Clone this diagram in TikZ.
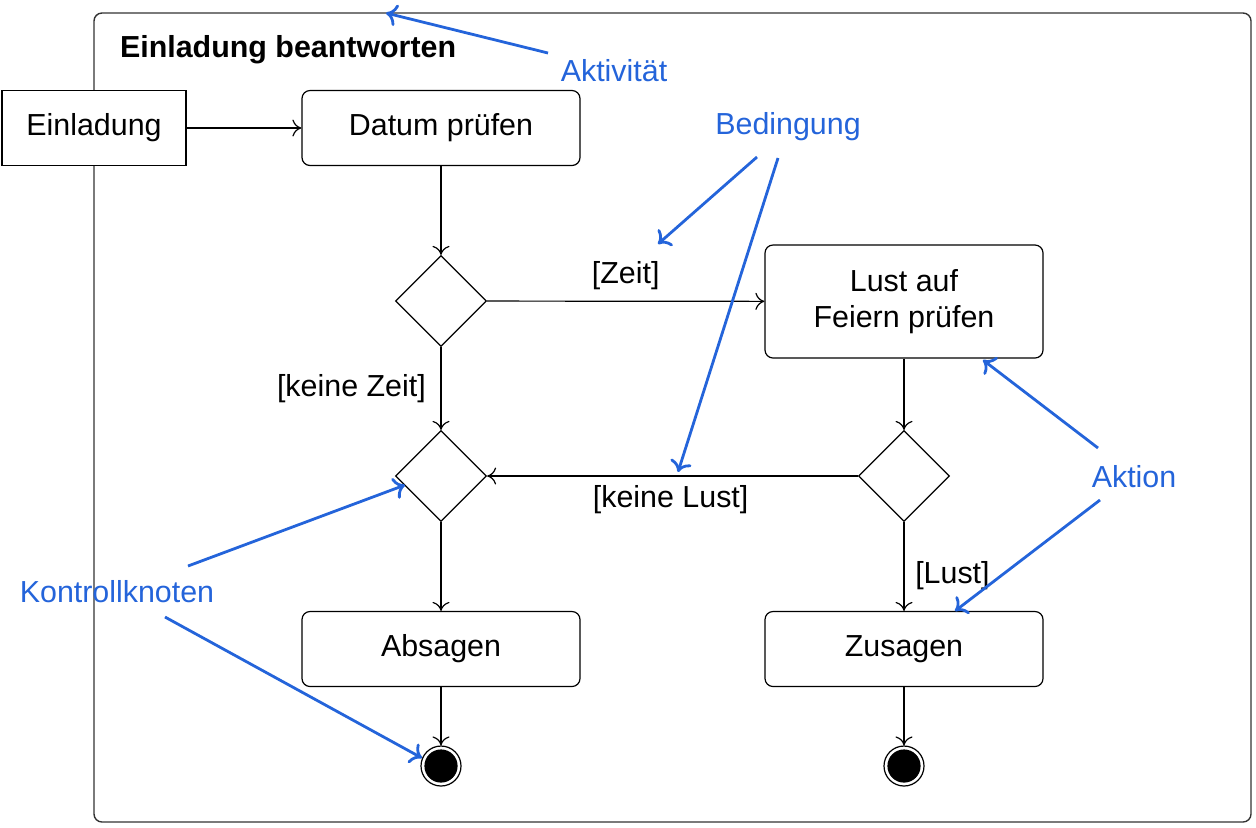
\documentclass[tikz,border=0pt]{standalone}
\usepackage{fontspec}
\setmainfont{Liberation Sans}
\usetikzlibrary{shapes.geometric,arrows.meta}
\definecolor{anno}{RGB}{36,100,218}
\begin{document}
\begin{tikzpicture}[x=0.5pt,y=-0.5pt,
  every node/.style={font=\fontsize{15.2pt}{18pt}\selectfont},
  frame/.style={draw=black!80,line width=0.7pt,rounded corners=4pt},
  action/.style={draw,line width=0.6pt,rounded corners=4pt,minimum width=139pt,minimum height=37.5pt,align=center},
  objbox/.style={draw,line width=0.6pt,minimum width=92pt,minimum height=37.5pt},
  decision/.style={draw,diamond,aspect=1,line width=0.6pt,minimum width=45.5pt,minimum height=45.5pt,inner sep=0pt},
  final/.style={draw,circle,line width=0.6pt,minimum size=20pt,inner sep=0pt},
  flow/.style={line width=0.6pt,-{To[length=4.5pt,width=8.5pt]}},
  annotext/.style={text=anno},
  annoarrow/.style={draw=anno,line width=1.4pt,-{To[length=5.5pt,width=11pt]}}]
\useasboundingbox (0,0) rectangle (1256,827);
% activity frame
\draw[frame] (94,13) rectangle (1251,822);
\node[anchor=west,font=\fontsize{15.2pt}{18pt}\selectfont\bfseries] (title) at (113,50) {Einladung beantworten};
% nodes
\node[objbox,fill=white] (einl) at (94,128) {Einladung};
\node[action] (datum) at (441,128) {Datum prüfen};
\node[decision] (d1) at (441,301) {};
\node[action,minimum height=56.5pt,align=center] (lust) at (904,301.5) {Lust auf\\Feiern prüfen};
\node[decision] (d2) at (441,476) {};
\node[decision] (d3) at (904,476) {};
\node[action] (absagen) at (441,649) {Absagen};
\node[action] (zusagen) at (904,649) {Zusagen};
\node[final] (f1) at (441,766) {};
\node[final] (f2) at (904,766) {};
\fill (f1.center) circle (8.3pt);
\fill (f2.center) circle (8.3pt);
% flows
\draw[flow] (einl) -- (datum);
\draw[flow] (datum) -- (d1);
\draw[flow] (d1) -- node[above,pos=0.5,yshift=2pt] {[Zeit]} (lust);
\draw[flow] (d1) -- node[left,xshift=-4pt] {[keine Zeit]} (d2);
\draw[flow] (lust) -- (d3);
\draw[flow] (d3) -- node[below,pos=0.505,yshift=-1pt] {[keine Lust]} (d2);
\draw[flow] (d2) -- (absagen);
\draw[flow] (d3) -- node[right,pos=0.6,xshift=2pt] {[Lust]} (zusagen);
\draw[flow] (absagen) -- (f1);
\draw[flow] (zusagen) -- (f2);
% annotations
\node[annotext] (aktivitaet) at (614,71) {Aktivität};
\node[annotext] (bedingung) at (788,127) {Bedingung};
\node[annotext] (aktion) at (1134,477) {Aktion};
\node[annotext] (kontroll) at (117,592) {Kontrollknoten};
\coordinate (tAkt) at (386,13);
\coordinate (tZeit) at (658,244);
\coordinate (tLust) at (678,472);
\coordinate (tLustbox) at (983,360);
\coordinate (tZus) at (955,611);
\coordinate (tD2) at (405,485);
\coordinate (tF1) at (422,758);
\coordinate (sAkt) at (548,53);
\coordinate (sB1) at (757,157);
\coordinate (sB2) at (778,158);
\coordinate (sA1) at (1098,448);
\coordinate (sA2) at (1100,500);
\coordinate (sK1) at (188,566);
\coordinate (sK2) at (165,617);
\draw[annoarrow] (sAkt) -- (tAkt);
\draw[annoarrow] (sB1) -- (tZeit);
\draw[annoarrow] (sB2) -- (tLust);
\draw[annoarrow] (sA1) -- (tLustbox);
\draw[annoarrow] (sA2) -- (tZus);
\draw[annoarrow] (sK1) -- (tD2);
\draw[annoarrow] (sK2) -- (tF1);
\end{tikzpicture}
\end{document}
